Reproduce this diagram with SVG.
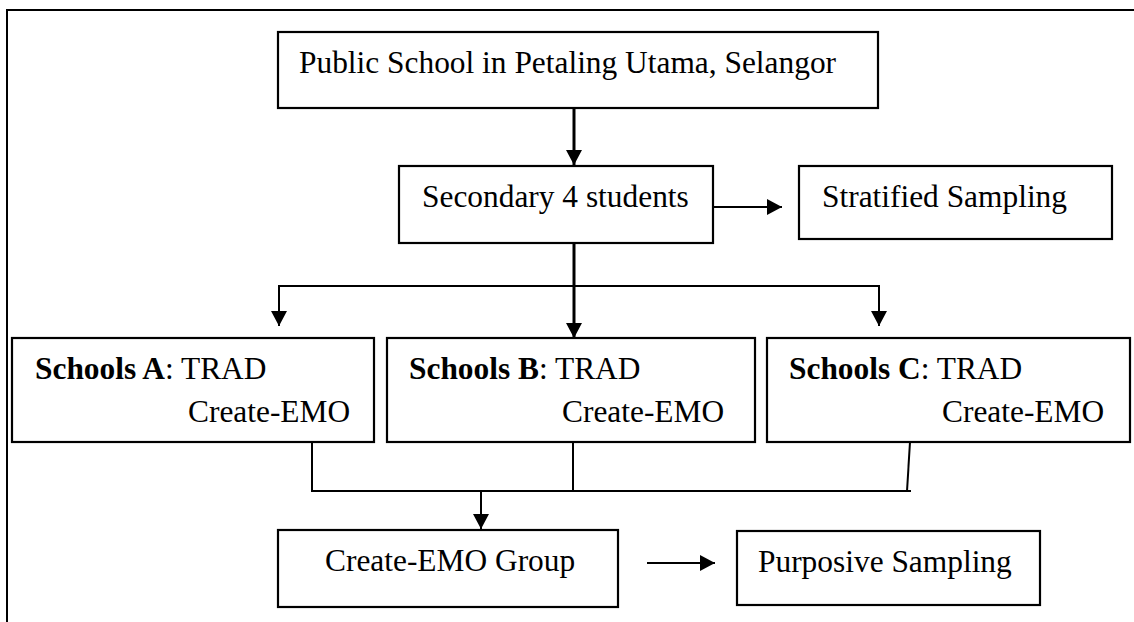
<svg xmlns="http://www.w3.org/2000/svg" width="1134" height="622" viewBox="0 0 1134 622">
<style>
  .box { fill: #ffffff; stroke: #000000; stroke-width: 2.2; }
  .ln { fill: none; stroke: #000000; stroke-width: 2; }
  .thick { stroke-width: 3; }
  .t { font-family: "Liberation Serif", "Times New Roman", serif; font-size: 31.4px; fill: #000000; }
  .b { font-weight: bold; }
</style>
<defs>
  <marker id="ah" markerUnits="userSpaceOnUse" markerWidth="18" markerHeight="18" refX="15" refY="9" orient="auto">
    <path d="M0,1 L15,9 L0,17 Z" fill="#000000"/>
  </marker>
</defs>
<rect x="0" y="0" width="1134" height="622" fill="#ffffff"/>
<g id="frame">
  <path class="ln" d="M7,622 L7,10 L1134,10"/>
</g>
<g id="connectors">
  <line class="ln thick" x1="574" y1="108" x2="574" y2="165" marker-end="url(#ah)"/>
  <line class="ln" x1="713" y1="207" x2="782" y2="207" marker-end="url(#ah)"/>
  <line class="ln thick" x1="574" y1="243" x2="574" y2="338" marker-end="url(#ah)"/>
  <line class="ln" x1="279" y1="286" x2="879" y2="286"/>
  <line class="ln" x1="279" y1="285" x2="279" y2="326" marker-end="url(#ah)"/>
  <line class="ln" x1="879" y1="285" x2="879" y2="326" marker-end="url(#ah)"/>
  <line class="ln" x1="312" y1="442" x2="312" y2="491"/>
  <line class="ln" x1="573" y1="442" x2="573" y2="491"/>
  <line class="ln" x1="910" y1="442" x2="907" y2="491"/>
  <line class="ln" x1="311" y1="491" x2="911" y2="491"/>
  <line class="ln" x1="481" y1="491" x2="481" y2="529" marker-end="url(#ah)"/>
  <line class="ln" x1="647" y1="563" x2="715" y2="563" marker-end="url(#ah)"/>
</g>
<g id="node-public">
  <rect class="box" x="278" y="32" width="600" height="76"/>
  <text class="t" x="299" y="73">Public School in Petaling Utama, Selangor</text>
</g>
<g id="node-secondary">
  <rect class="box" x="399" y="166" width="314" height="77"/>
  <text class="t" x="422" y="207">Secondary 4 students</text>
</g>
<g id="node-stratified">
  <rect class="box" x="799" y="166" width="313" height="73"/>
  <text class="t" x="822" y="207">Stratified Sampling</text>
</g>
<g id="node-schoolA">
  <rect class="box" x="12" y="338" width="362" height="104"/>
  <text class="t" x="35" y="379"><tspan class="b">Schools A</tspan>: TRAD</text>
  <text class="t" x="188" y="422">Create-EMO</text>
</g>
<g id="node-schoolB">
  <rect class="box" x="387" y="338" width="368" height="104"/>
  <text class="t" x="409" y="379"><tspan class="b">Schools B</tspan>: TRAD</text>
  <text class="t" x="562" y="422">Create-EMO</text>
</g>
<g id="node-schoolC">
  <rect class="box" x="767" y="338" width="363" height="104"/>
  <text class="t" x="789" y="379"><tspan class="b">Schools C</tspan>: TRAD</text>
  <text class="t" x="942" y="422">Create-EMO</text>
</g>
<g id="node-group">
  <rect class="box" x="278" y="530" width="340" height="77"/>
  <text class="t" x="325" y="571">Create-EMO Group</text>
</g>
<g id="node-purposive">
  <rect class="box" x="737" y="531" width="303" height="74"/>
  <text class="t" x="758" y="572">Purposive Sampling</text>
</g>
</svg>
